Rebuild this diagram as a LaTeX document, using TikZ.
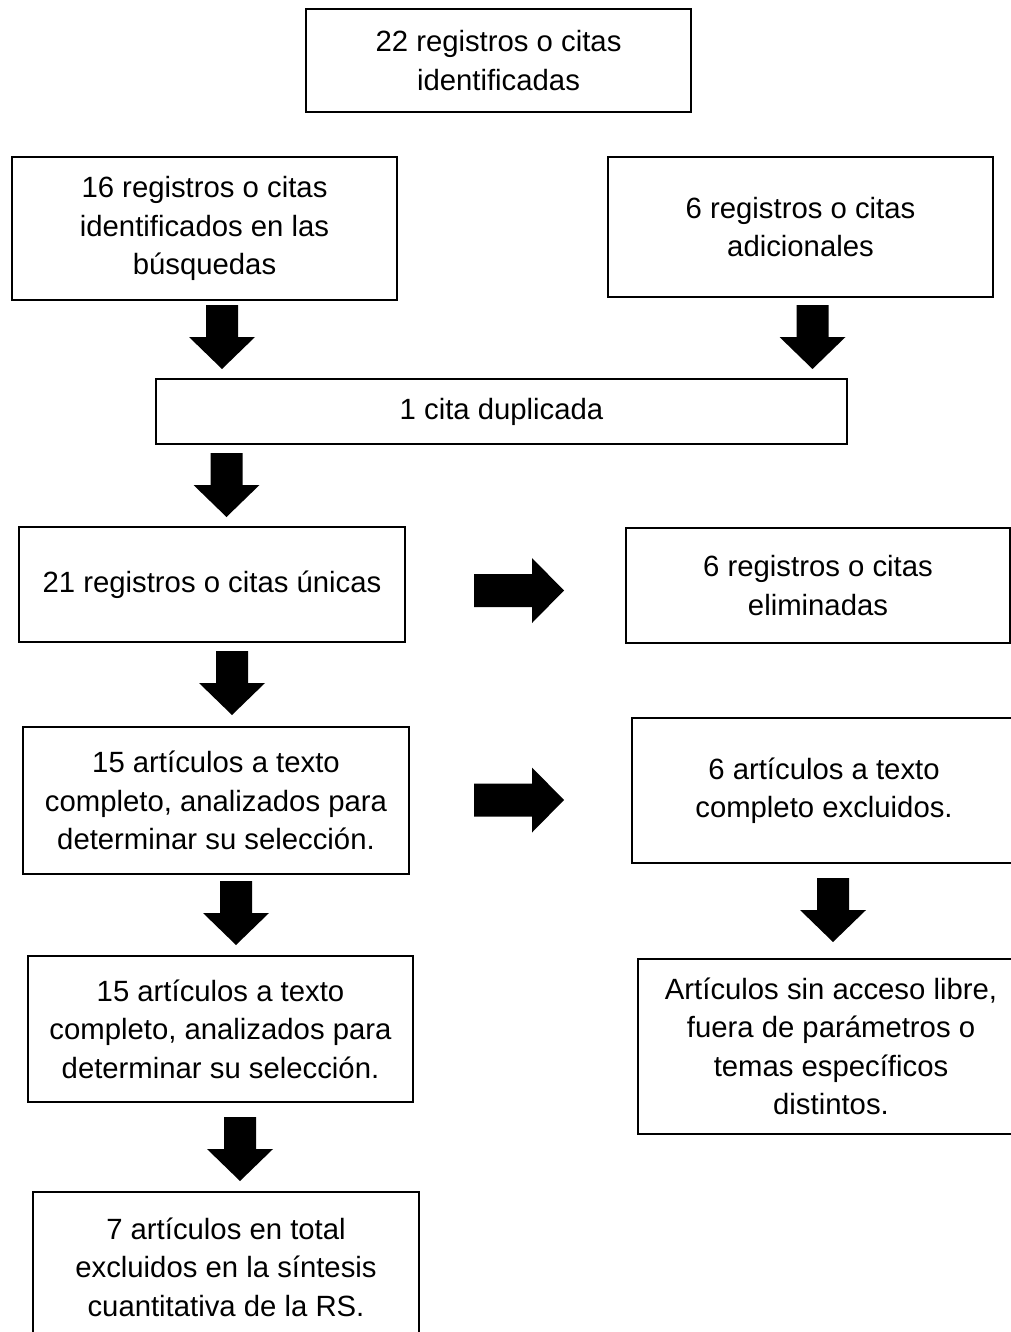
\documentclass[tikz,border=0pt]{standalone}
\usepackage{fontspec}
\setmainfont{Liberation Sans}
\begin{document}
\begin{tikzpicture}[x=0.5pt,y=-0.5pt,
  box/.style={draw=black, line width=1.3pt, inner sep=0pt, align=center,
    font=\fontsize{14.65}{19.25}\selectfont},
  darr/.pic={\fill[black] (-16,0) -- (16,0) -- (16,32) -- (33,32) -- (0,64) -- (-33,32) -- (-16,32) -- cycle;},
  rarr/.pic={\fill[black] (0,-16.5) -- (58,-16.5) -- (58,-32.5) -- (90,0) -- (58,32.5) -- (58,16.5) -- (0,16.5) -- cycle;}
]
\useasboundingbox (0,0) rectangle (1011,1332);
\clip (0,0) rectangle (1011,1332);
\fill[white] (0,0) rectangle (1011,1332);

\node[box, minimum width=192.5pt, minimum height=51.5pt] (top) at (498.5,60.5) {22 registros o citas\\identificadas};
\node[box, minimum width=192.5pt, minimum height=71.5pt] (a) at (204.5,228.5) {16 registros o citas\\identificados en las\\búsquedas};
\node[box, minimum width=192.5pt, minimum height=70pt] (b) at (800.5,227) {6 registros o citas\\adicionales};
\node[box, minimum width=345.5pt, minimum height=32.5pt] (dup) at (501.5,411.5) {1 cita duplicada};
\node[box, minimum width=193pt, minimum height=57.5pt] (uni) at (212,584.5) {21 registros o citas únicas};
\node[box, minimum width=192pt, minimum height=57.5pt] (elim) at (818,585.5) {6 registros o citas\\eliminadas};
\node[box, minimum width=193pt, minimum height=73.5pt] (fa) at (216,800.5) {15 artículos a texto\\completo, analizados para\\determinar su selección.};
\node[box, minimum width=192pt, minimum height=72.5pt] (excl) at (824,790.5) {6 artículos a texto\\completo excluidos.};
\node[box, minimum width=192.5pt, minimum height=73pt] (fb) at (220.5,1029) {15 artículos a texto\\completo, analizados para\\determinar su selección.};
\node[box, minimum width=193pt, minimum height=87.5pt] (sin) at (831,1046.5) {Artículos sin acceso libre,\\fuera de parámetros o\\temas específicos\\distintos.};
\node[box, minimum width=193pt, minimum height=75pt] (fin) at (226,1267) {7 artículos en total\\excluidos en la síntesis\\cuantitativa de la RS.};

% block arrows
\pic at (222,305) {darr};
\pic at (812.5,305) {darr};
\pic at (226.5,453) {darr};
\pic at (232,651) {darr};
\pic at (236,881) {darr};
\pic at (240,1117) {darr};
\pic at (833,878) {darr};
\pic at (474,590.5) {rarr};
\pic at (474,800) {rarr};
\end{tikzpicture}
\end{document}
